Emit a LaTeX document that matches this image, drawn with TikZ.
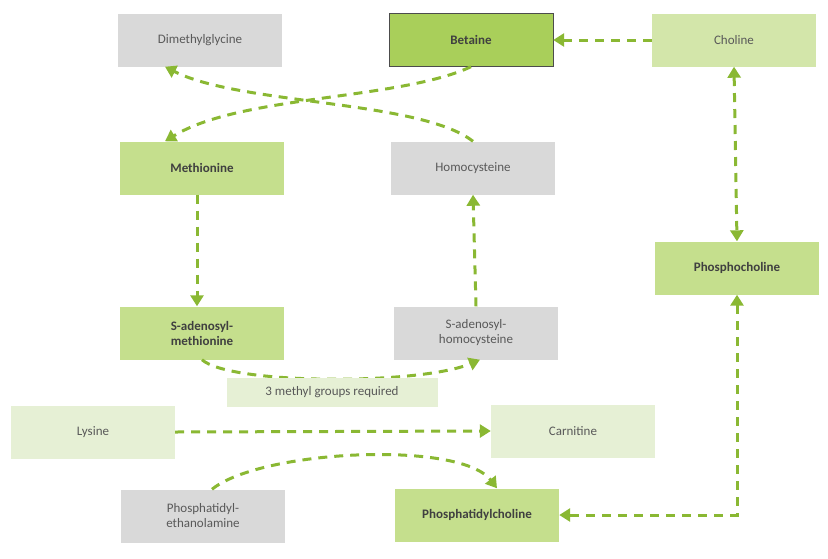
\documentclass[tikz,border=0pt]{standalone}
\usepackage{fontspec}
\setmainfont{Carlito}
\usetikzlibrary{arrows.meta}
\definecolor{grayb}{HTML}{D9D9D9}
\definecolor{gtxt}{HTML}{595959}
\definecolor{gmid}{HTML}{C5DF8D}
\definecolor{gdark}{HTML}{A9CF5A}
\definecolor{glight}{HTML}{D3E6AA}
\definecolor{gpale}{HTML}{E6F0D5}
\definecolor{garrow}{HTML}{8AB833}
\tikzset{
  box/.style={minimum width=164pt,minimum height=53pt,inner sep=0pt,font=\fontsize{13}{15}\selectfont,align=center,text=gtxt},
  grey/.style={box,fill=grayb},
  mid/.style={box,fill=gmid,font=\fontsize{13}{15}\selectfont\bfseries,text=black!75},
  pale/.style={box,fill=gpale},
  con/.style={draw=garrow,line width=3pt,dash pattern=on 9pt off 7pt,-{Triangle[length=11pt,width=13pt]}},
  both/.style={con,{Triangle[length=11pt,width=13pt]}-{Triangle[length=11pt,width=13pt]}}
}
\begin{document}
\begin{tikzpicture}[x=1pt,y=-1pt]
\useasboundingbox (0,0) rectangle (828,558);
\node[grey] (dmg) at (200,40) {Dimethylglycine};
\node[box,fill=gdark,draw=black!70,font=\fontsize{13}{15}\selectfont\bfseries,text=black!75] (bet) at (471,40) {Betaine};
\node[box,fill=glight] (cho) at (734,40) {Choline};
\node[mid] (met) at (202,168) {Methionine};
\node[grey] (hcy) at (473,168) {Homocysteine};
\node[mid] (pch) at (737,268) {Phosphocholine};
\node[mid] (sam) at (202,333) {S-adenosyl-\\methionine};
\node[grey] (sah) at (476,333) {S-adenosyl-\\homocysteine};
\node[box,fill=gpale,minimum width=211pt,minimum height=29pt] (lab) at (332,392) {};
\node[pale] (lys) at (93,432) {Lysine};
\node[pale] (car) at (573,431) {Carnitine};
\node[grey] (pe) at (203,516) {Phosphatidyl-\\ethanolamine};
\node[mid] (pc) at (477,515) {Phosphatidylcholine};

\draw[con] (cho.west) -- (bet.east);
\draw[both] (cho.south) -- (pch.north);
\draw[both] (pch.south) |- (pc.east);
\draw[con] (bet.south) .. controls (400,100) and (240,95) .. ([xshift=-37pt]met.north);
\draw[con] (hcy.north) .. controls (420,100) and (240,105) .. ([xshift=-35pt]dmg.south);
\draw[con] ([xshift=-5pt]met.south) -- ([xshift=-5pt]sam.north);
\draw[con] (sah.north) -- (hcy.south);
\draw[con] (sam.south) .. controls (230,385) and (420,385) .. ([xshift=4pt]sah.south);
\node[box,fill=gpale,minimum width=211pt,minimum height=29pt] at (lab) {3 methyl groups required};
\draw[con] (lys.east) -- (car.west);
\draw[con] ([xshift=9pt]pe.north) .. controls (260,450) and (460,440) .. ([xshift=20pt]pc.north);
\end{tikzpicture}
\end{document}
